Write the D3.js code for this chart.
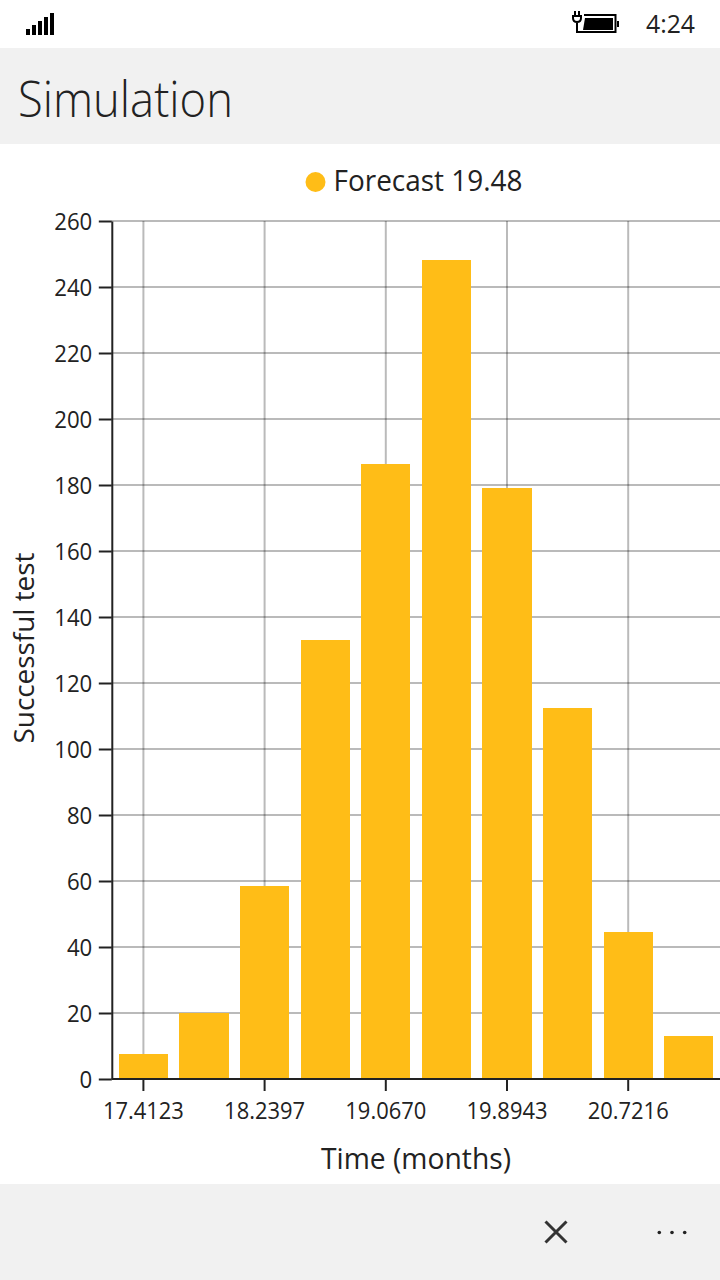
<!DOCTYPE html>
<html><head><meta charset="utf-8">
<script src="https://cdn.jsdelivr.net/npm/d3@7/dist/d3.min.js"></script>
<style>
html,body{margin:0;padding:0;background:#fff;overflow:hidden}
svg{display:block}
text{font-family:"Open Sans","Noto Sans",sans-serif;fill:#222}
</style></head><body>
<div id="chart"></div>
<script>
const binLabels = ["17.4123","","18.2397","","19.0670","","19.8943","","20.7216",""];
const successCounts = [7.5,20,58.5,133,186.4,248.2,179,112.4,44.5,13];
const yTicks = d3.range(0,261,20);
const legendLabel = "Forecast 19.48";
const titleText = "Simulation";
const clockText = "4:24";
const xTitle = "Time (months)";
const yTitle = "Successful test";
const signalLevels = [1,2,3,4,5];

const W=720,H=1280,plotLeft=111.8,plotRight=719.4,plotTop=221,plotBottom=1079;
const gold="#FFBD17",axisC="#222";
const svg=d3.select("#chart").append("svg").attr("width",W).attr("height",H);

// chrome
svg.append("rect").attr("x",0).attr("y",48).attr("width",W).attr("height",96).attr("fill","#f1f1f1");
svg.append("rect").attr("x",0).attr("y",1184).attr("width",W).attr("height",96).attr("fill","#f1f1f1");
svg.append("text").attr("x",18).attr("y",117).attr("font-size",49).attr("font-weight",300).attr("textLength",215).attr("lengthAdjust","spacingAndGlyphs").text(titleText);
svg.append("text").attr("x",646).attr("y",33).attr("font-size",26).attr("textLength",49).attr("lengthAdjust","spacingAndGlyphs").text(clockText);

// signal
const sx=d3.scaleBand().domain(signalLevels).range([26,54]).paddingInner(1/3);
svg.selectAll(".sig").data(signalLevels).join("rect").attr("class","sig")
 .attr("x",d=>sx(d)).attr("width",sx.bandwidth())
 .attr("y",d=>35-(2+d*4)).attr("height",d=>2+d*4).attr("fill","#000");

// battery
const bat=svg.append("g");
bat.append("path").attr("d","M584 15H615.500V32H577").attr("fill","none").attr("stroke","#000").attr("stroke-width",2);
bat.append("path").attr("d","M585 18H613V30H583Z").attr("fill","#000");
bat.append("rect").attr("x",617).attr("y",21).attr("width",2).attr("height",6).attr("fill","#000");
bat.append("path").attr("d","M573 16H581V18Q581 22 577 22Q573 22 573 18ZM575 11V16M579 11V16M577 22V33").attr("fill","none").attr("stroke","#000").attr("stroke-width",2);

// scales
const x=d3.scaleBand().domain(d3.range(binLabels.length)).range([plotLeft+1,plotRight]).paddingInner(0.19).paddingOuter(0.1);
const y=d3.scaleLinear().domain([0,260]).range([plotBottom,plotTop]);

// grid
svg.append("g").selectAll("line").data(yTicks.slice(1)).join("line")
 .attr("x1",plotLeft).attr("x2",W).attr("y1",d=>y(d)).attr("y2",d=>y(d)).attr("stroke","#000").attr("stroke-opacity",0.27).attr("stroke-width",2);
const labelled=d3.range(binLabels.length).filter(i=>binLabels[i]);
svg.append("g").selectAll("line").data(labelled).join("line")
 .attr("x1",i=>x(i)+x.bandwidth()/2).attr("x2",i=>x(i)+x.bandwidth()/2).attr("y1",plotTop).attr("y2",plotBottom).attr("stroke","#000").attr("stroke-opacity",0.27).attr("stroke-width",2);

// bars
svg.append("g").attr("shape-rendering","crispEdges").selectAll("rect").data(successCounts).join("rect")
 .attr("x",(d,i)=>x(i)).attr("width",x.bandwidth()).attr("y",d=>y(d)).attr("height",d=>plotBottom-y(d)).attr("fill",gold);

// axes
const gy=svg.append("g").attr("transform",`translate(${plotLeft},0)`)
 .call(d3.axisLeft(y).tickValues(yTicks).tickSize(13).tickSizeOuter(0).tickPadding(6));
const gx=svg.append("g").attr("transform",`translate(0,${plotBottom})`)
 .call(d3.axisBottom(x).tickValues(labelled).tickFormat(i=>binLabels[i]).tickSize(12).tickSizeOuter(0).tickPadding(12));
gx.select(".domain").attr("d",`M${plotLeft},0H${W}`);
[gy,gx].forEach(g=>{
 g.selectAll("path,line").attr("stroke",axisC).attr("stroke-width",2);
 g.selectAll("text").attr("font-family",'"Open Sans","Noto Sans",sans-serif').attr("font-size",23).attr("fill","#222");
});
gx.selectAll("text").attr("textLength",81).attr("lengthAdjust","spacingAndGlyphs");
gy.selectAll("text").attr("x",-19.500).attr("dy","0.36em").each(function(d){d3.select(this).attr("textLength",String(d).length*12.700).attr("lengthAdjust","spacingAndGlyphs");});

// titles
svg.append("text").attr("x",416).attr("y",1169).attr("text-anchor","middle").attr("font-size",29).attr("textLength",190).attr("lengthAdjust","spacingAndGlyphs").text(xTitle);
svg.append("text").attr("transform","translate(34,648) rotate(-90)").attr("text-anchor","middle").attr("font-size",28).attr("textLength",191).attr("lengthAdjust","spacingAndGlyphs").text(yTitle);

// legend
svg.append("circle").attr("cx",315.500).attr("cy",182).attr("r",10).attr("fill",gold);
svg.append("text").attr("x",333.500).attr("y",191).attr("font-size",29).attr("textLength",189).attr("lengthAdjust","spacingAndGlyphs").text(legendLabel);

// app bar
svg.append("path").attr("d","M545.500 1221.500L566.500 1242.500M566.500 1221.500L545.500 1242.500").attr("fill","none").attr("stroke","#333").attr("stroke-width",3);
svg.selectAll(".dot").data([0,1,2]).join("circle").attr("class","dot").attr("cx",d=>659.300+d*12.700).attr("cy",1232.500).attr("r",1.8).attr("fill","#222");
</script>
</body></html>
